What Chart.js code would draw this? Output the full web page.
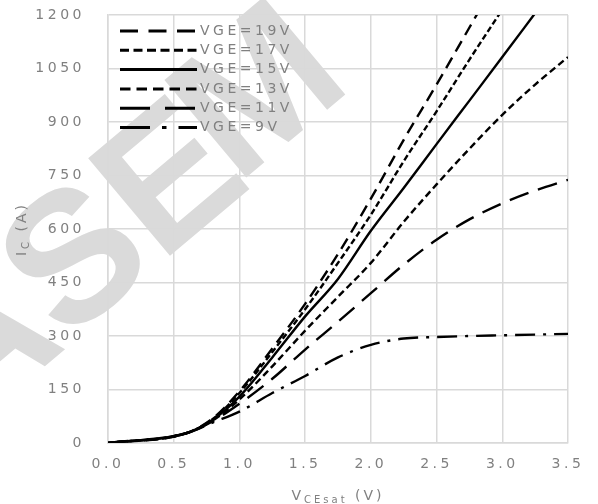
<!DOCTYPE html>
<html>
<head>
<meta charset="utf-8">
<style>
  html, body { margin: 0; padding: 0; background: #fff; }
  #wrap { width: 598px; height: 504px; }
</style>
<script src="https://cdn.jsdelivr.net/npm/chart.js@4.4.1/dist/chart.umd.min.js"></script>
</head>
<body>
<div id="wrap"><canvas id="chart" width="598" height="504"></canvas></div>
<script>
// Output characteristics, Ic vs Vcesat
const vce = [0, 0.6, 0.8, 1.0, 1.25, 1.5, 1.75, 2.0, 2.25, 2.5, 2.75, 3.0, 3.25, 3.5];
const ic19 = [0, 28, 70, 145, 265, 390, 530, 685, 850, 1005, 1165, 1325];
const ic17 = [0, 28, 68, 140, 255, 375, 505, 640, 790, 930, 1075, 1215];
const ic15 = [0, 28, 66, 130, 240, 355, 460, 595, 715, 838, 960, 1082, 1205];
const ic13 = [0, 28, 64, 122, 215, 315, 410, 505, 620, 725, 825, 920, 1005, 1082];
const ic11 = [0, 28, 62, 110, 180, 262, 340, 420, 500, 570, 627, 672, 708, 738];
const ic9 = [0, 28, 58, 88, 140, 188, 240, 275, 293, 297, 300, 302, 304, 306];
const seriesLabels = ['VGE=19V', 'VGE=17V', 'VGE=15V', 'VGE=13V', 'VGE=11V', 'VGE=9V'];
const xTicks = [0, 0.5, 1.0, 1.5, 2.0, 2.5, 3.0, 3.5];
const yTicks = [0, 150, 300, 450, 600, 750, 900, 1050, 1200];

const dashes = [[12, 7], [6, 3], [], [7, 4], [20, 10], [20, 8, 3, 8]];
const tickFont = { family: 'DejaVu Sans', size: 14 };
const grey = '#808080';

function toPoints(values) {
  return values.map((v, i) => ({ x: vce[i], y: v }));
}

const datasets = [ic19, ic17, ic15, ic13, ic11, ic9].map((vals, i) => ({
  label: seriesLabels[i],
  data: toPoints(vals),
  borderColor: '#000',
  backgroundColor: '#000',
  borderWidth: 2.4,
  borderDash: dashes[i],
  pointRadius: 0,
  cubicInterpolationMode: 'monotone',
  clip: 0
}));

// Excel style text is spread out, canvas letterSpacing gets close to that
const spacingPlugin = {
  id: 'spacing',
  beforeLayout(chart) { chart.ctx.letterSpacing = '3.5px'; },
  beforeDraw(chart) { chart.ctx.letterSpacing = '3.5px'; }
};

// legend inside the plot, axis titles with subscripts, then the watermark
const decorPlugin = {
  id: 'decor',
  afterDraw(chart) {
    const ctx = chart.ctx;
    const area = chart.chartArea;
    const big = '14px "DejaVu Sans"';
    const small = '10px "DejaVu Sans"';

    // legend: dash samples are drawn a bit longer, as Excel does
    ctx.save();
    ctx.letterSpacing = '3.5px';
    ctx.font = big;
    ctx.textAlign = 'left';
    ctx.textBaseline = 'middle';
    chart.data.datasets.forEach((ds, i) => {
      const y = area.top + 16 + i * 19.3;
      ctx.strokeStyle = ds.borderColor;
      ctx.lineWidth = 3;
      ctx.setLineDash(ds.borderDash.map(d => d * 1.5));
      ctx.beginPath();
      ctx.moveTo(area.left + 12, y);
      ctx.lineTo(area.left + 89, y);
      ctx.stroke();
      ctx.fillStyle = grey;
      ctx.fillText(ds.label, area.left + 92, y);
    });
    ctx.restore();

    ctx.save();
    ctx.fillStyle = grey;
    ctx.letterSpacing = '3px';
    ctx.textBaseline = 'alphabetic';
    ctx.textAlign = 'left';
    // x title: V CEsat (V)
    ctx.font = big;
    const w1 = ctx.measureText('V').width;
    const w3 = ctx.measureText(' (V)').width;
    ctx.font = small;
    const w2 = ctx.measureText('CEsat').width;
    let x = (area.left + area.right) / 2 - (w1 + w2 + w3) / 2;
    const yb = 500;
    ctx.font = big; ctx.fillText('V', x, yb); x += w1;
    ctx.font = small; ctx.fillText('CEsat', x, yb + 3); x += w2;
    ctx.font = big; ctx.fillText(' (V)', x, yb);

    // y title: I C (A), rotated
    ctx.translate(26, (area.top + area.bottom) / 2);
    ctx.rotate(-Math.PI / 2);
    ctx.font = big;
    const a1 = ctx.measureText('I').width;
    const a3 = ctx.measureText(' (A)').width;
    ctx.font = small;
    const a2 = ctx.measureText('C').width;
    let t = -(a1 + a2 + a3) / 2;
    ctx.font = big; ctx.fillText('I', t, 0); t += a1;
    ctx.font = small; ctx.fillText('C', t, 3); t += a2;
    ctx.font = big; ctx.fillText(' (A)', t, 0);
    ctx.restore();

    // watermark, blended with darken so ink stays on top
    ctx.save();
    ctx.letterSpacing = '0px';
    ctx.globalCompositeOperation = 'darken';
    ctx.fillStyle = '#dadada';
    ctx.font = 'bold 185px "Liberation Sans"';
    ctx.textAlign = 'center';
    ctx.textBaseline = 'middle';
    const letters = [['A', -15, 350], ['S', 80, 265], ['E', 175, 185], ['M', 263, 97]];
    letters.forEach(([ch, lx, ly]) => {
      ctx.save();
      ctx.translate(lx, ly);
      ctx.rotate(-40 * Math.PI / 180);
      ctx.fillText(ch, 0, 0);
      ctx.restore();
    });
    ctx.restore();
  }
};

new Chart(document.getElementById('chart'), {
  type: 'line',
  data: { datasets: datasets },
  options: {
    responsive: false,
    animation: false,
    devicePixelRatio: 1,
    layout: { padding: { top: 15, right: 30, bottom: 0, left: 0 } },
    plugins: {
      tooltip: { enabled: false },
      legend: { display: false }
    },
    scales: {
      x: {
        type: 'linear',
        min: 0,
        max: 3.5,
        afterBuildTicks: (scale) => { scale.ticks = xTicks.map(v => ({ value: v })); },
        afterFit: (scale) => { scale.height = 61; scale.paddingLeft = 0; scale.paddingRight = 0; },
        grid: { color: '#d9d9d9', lineWidth: 1.5, drawTicks: false },
        border: { color: '#d9d9d9', width: 1.5 },
        ticks: {
          z: 1,
          padding: 13,
          color: grey,
          font: tickFont,
          maxRotation: 0,
          callback: (v) => Number(v).toFixed(1)
        }
      },
      y: {
        min: 0,
        max: 1200,
        afterBuildTicks: (scale) => { scale.ticks = yTicks.map(v => ({ value: v })); },
        afterFit: (scale) => { scale.width = 108; scale.paddingTop = 0; scale.paddingBottom = 0; },
        grid: { color: '#d9d9d9', lineWidth: 1.5, drawTicks: false },
        border: { color: '#d9d9d9', width: 1.5 },
        ticks: {
          z: 1,
          padding: 23,
          color: grey,
          font: tickFont,
          callback: (v) => String(v)
        }
      }
    }
  },
  plugins: [spacingPlugin, decorPlugin]
});
</script>
</body>
</html>
